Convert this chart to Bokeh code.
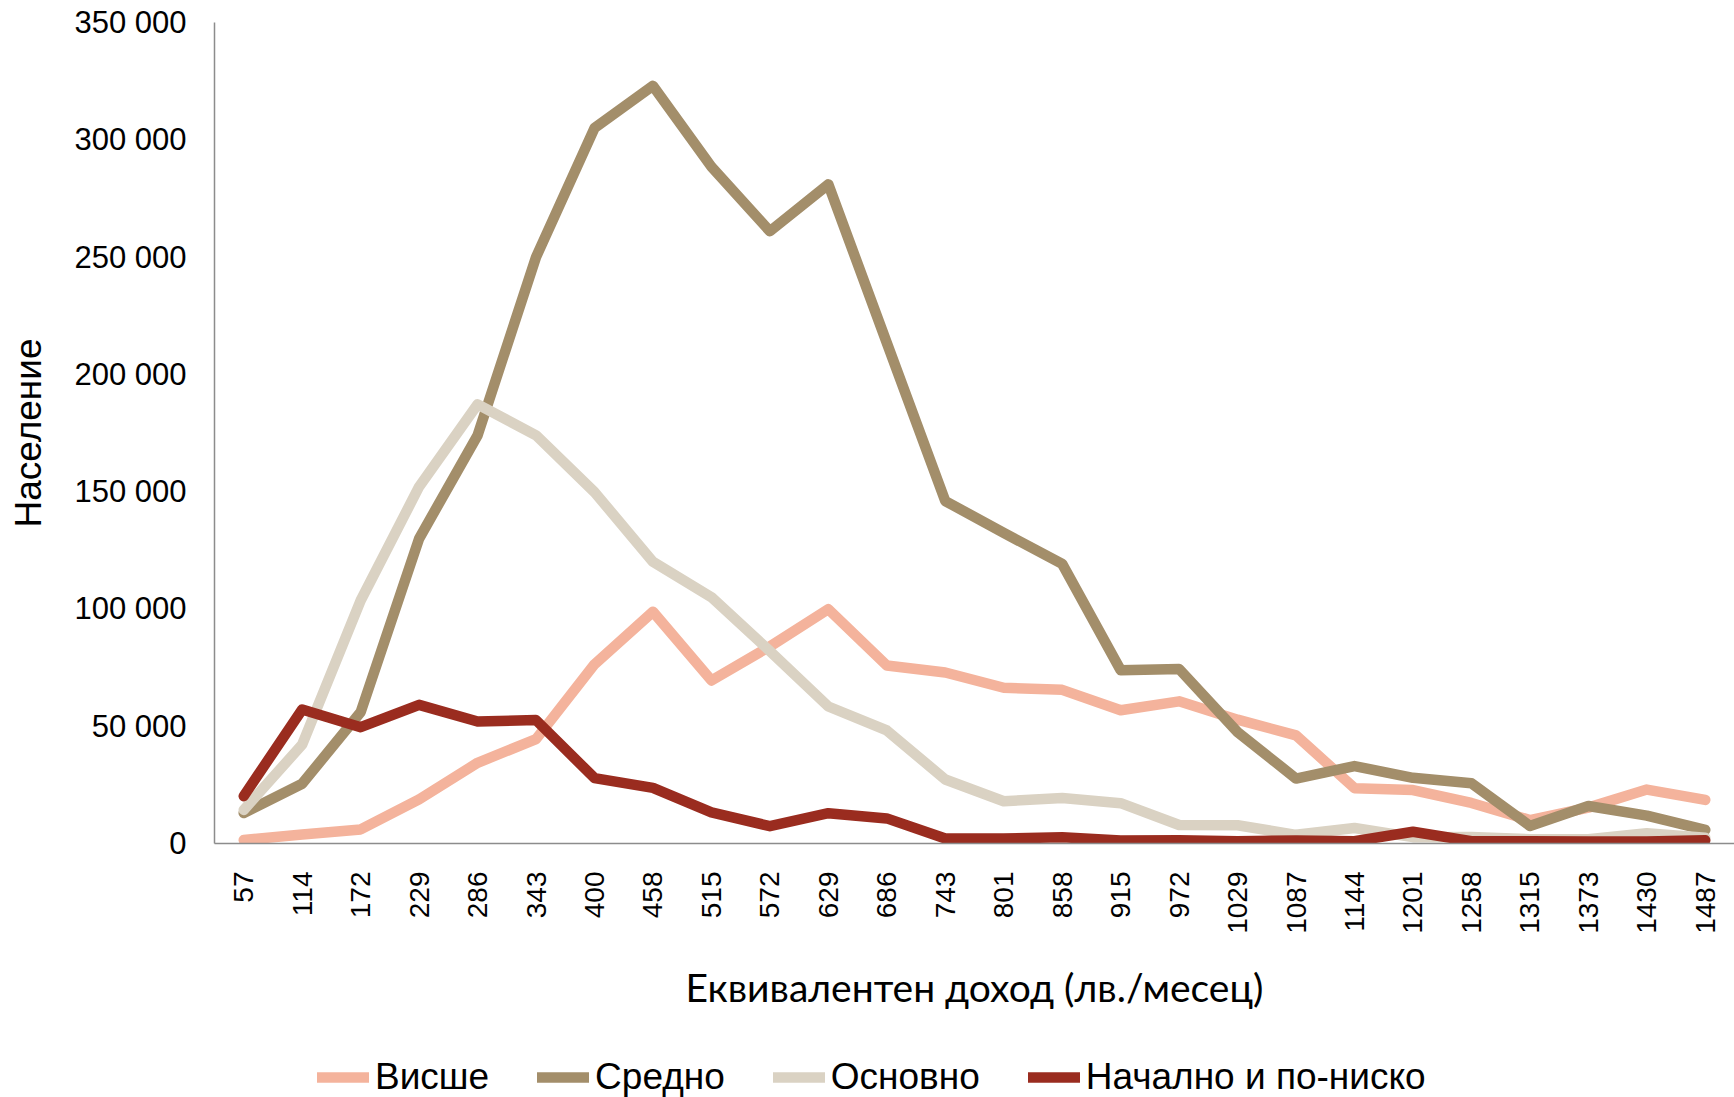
from math import pi
from bokeh.plotting import figure
from bokeh.layouts import column
from bokeh.models import FactorRange, Range1d, FixedTicker, Legend, LegendItem
from bokeh.embed import file_html
from bokeh.resources import INLINE

categories = ["57", "114", "172", "229", "286", "343", "400", "458", "515", "572",
              "629", "686", "743", "801", "858", "915", "972", "1029", "1087", "1144",
              "1201", "1258", "1315", "1373", "1430", "1487"]

vishe = [1500, 3800, 6000, 18800, 34400, 44500, 76400, 98800, 69500, 84000,
         99900, 75900, 72900, 66400, 65500, 56800, 60600, 52800, 46100, 23600,
         22800, 17300, 10000, 15300, 23000, 18600]

sredno = [13000, 25500, 56000, 130000, 174000, 250000, 305000, 323000, 288500, 261000,
          281000, 213400, 146000, 132400, 119200, 73900, 74400, 47500, 27700, 33000,
          28000, 25700, 7500, 16000, 11900, 5800]

osnovno = [14300, 42200, 103600, 152100, 187200, 174000, 149800, 120100, 105000, 82000,
           58400, 48200, 27300, 18000, 19400, 17200, 7900, 7800, 3700, 6600,
           2700, 2800, 1800, 1800, 4400, 2500]

nachalno = [20200, 57100, 49600, 59100, 52000, 52600, 27900, 23700, 13300, 7400,
            12900, 10700, 2100, 2100, 2700, 1300, 1400, 1000, 1300, 1000,
            5000, 1000, 1000, 800, 800, 1400]

series_names = ["Висше", "Средно", "Основно", "Начално и по-ниско"]
series_colors = ["#F4B39C", "#A38E6A", "#DAD2C3", "#9A2C1F"]
series_values = [vishe, sredno, osnovno, nachalno]

y_ticks = [0, 50000, 100000, 150000, 200000, 250000, 300000, 350000]
y_tick_labels = ["0", "50 000", "100 000", "150 000", "200 000", "250 000", "300 000", "350 000"]

x_title = "Еквивалентен доход (лв./месец)"
y_title = "Население"

LINE_W = 10.5

p = figure(width=1734, height=1030,
           x_range=FactorRange(factors=categories, range_padding=0),
           y_range=Range1d(0, 350000),
           output_backend="svg", toolbar_location=None,
           min_border_left=214, min_border_right=0, min_border_top=22, min_border_bottom=187)

p.outline_line_color = None
p.xgrid.visible = False
p.ygrid.visible = False

for vals, col in zip(series_values, series_colors):
    p.line(categories, vals, line_color=col, line_width=LINE_W,
           line_cap="round", line_join="round")

# Y axis
ya = p.yaxis[0]
ya.ticker = FixedTicker(ticks=y_ticks)
ya.major_label_overrides = {t: l for t, l in zip(y_ticks, y_tick_labels)}
ya.major_tick_out = 0
ya.major_tick_in = 0
ya.minor_tick_out = 0
ya.minor_tick_in = 0
ya.axis_line_color = "#8C8C8C"
ya.axis_line_width = 1.5
ya.major_label_text_font = "Liberation Sans"
ya.major_label_text_font_size = "31px"
ya.major_label_text_color = "black"
ya.major_label_standoff = 28
ya.axis_label = y_title
ya.axis_label_text_font = "Liberation Sans"
ya.axis_label_text_font_size = "37px"
ya.axis_label_text_font_style = "normal"
ya.axis_label_text_color = "black"
ya.axis_label_standoff = 22

# X axis
xa = p.xaxis[0]
xa.major_tick_out = 0
xa.major_tick_in = 0
xa.minor_tick_out = 0
xa.minor_tick_in = 0
xa.axis_line_color = "#8C8C8C"
xa.axis_line_width = 1.5
xa.major_label_orientation = pi / 2
xa.major_label_text_font = "Liberation Sans"
xa.major_label_text_font_size = "28px"
xa.major_label_text_color = "black"
xa.major_label_standoff = 28
xa.axis_label = x_title
xa.axis_label_text_font = "Lato"
xa.axis_label_text_font_size = "39px"
xa.axis_label_text_font_style = "normal"
xa.axis_label_text_color = "black"
xa.axis_label_standoff = 27

# Legend strip (separate figure below the chart; its series lie outside its view)
lg = figure(width=1734, height=67,
            x_range=FactorRange(factors=categories, range_padding=0),
            y_range=Range1d(-2, -1),
            x_axis_type=None, y_axis_type=None,
            output_backend="svg", toolbar_location=None,
            min_border=0, min_border_left=0, min_border_right=0,
            min_border_top=0, min_border_bottom=0)
lg.outline_line_color = None
lg.xgrid.visible = False
lg.ygrid.visible = False

leg_renderers = [lg.line(categories, vals, line_color=c, line_width=LINE_W,
                         line_cap="round", line_join="round")
                 for vals, c in zip(series_values, series_colors)]

legend = Legend(
    items=[LegendItem(label=n, renderers=[r]) for n, r in zip(series_names, leg_renderers)],
    orientation="horizontal",
    location=(103, -1),
    glyph_width=52, glyph_height=20,
    label_standoff=6, spacing=48,
    padding=0, margin=0,
    border_line_alpha=0, background_fill_alpha=0,
    label_text_font="Liberation Sans", label_text_font_size="37px",
    label_text_color="black",
)
lg.add_layout(legend, "center")

layout = column(p, lg, spacing=0)

open("out.html", "w").write(file_html(layout, INLINE))
